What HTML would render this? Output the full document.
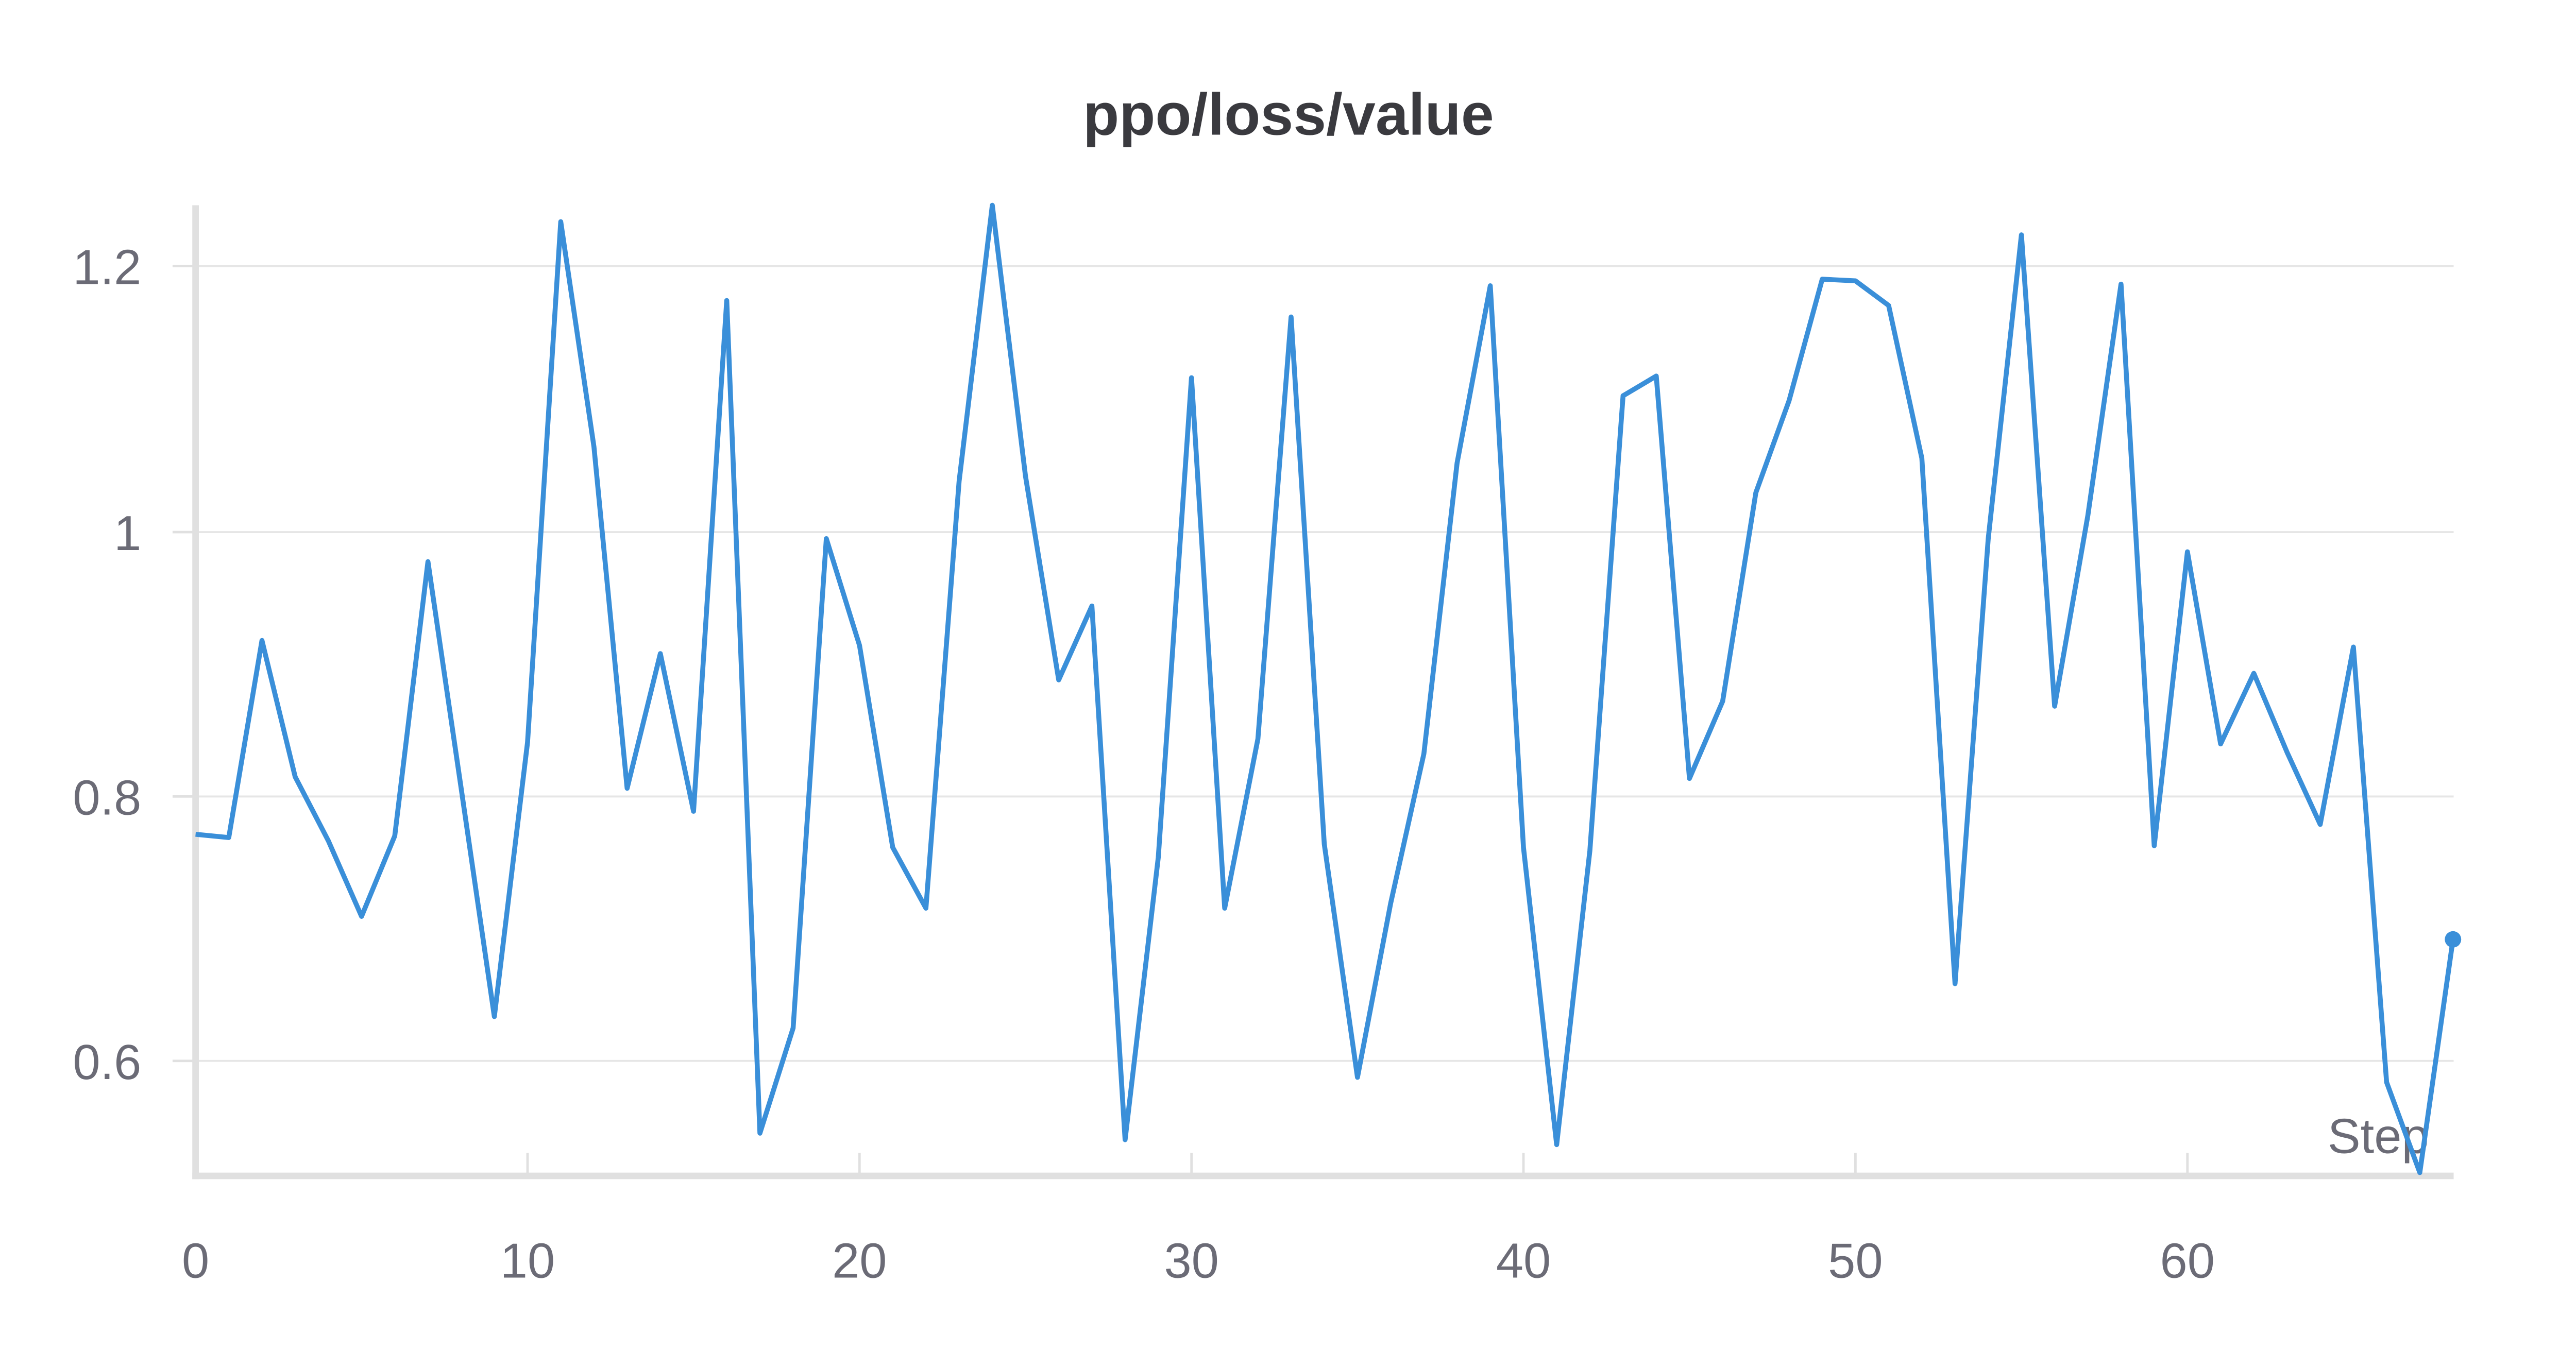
<!DOCTYPE html>
<html><head><meta charset="utf-8"><style>
html,body{margin:0;padding:0;background:#fff;}
svg{display:block;}
</style></head><body>
<svg width="5056" height="2656" viewBox="0 0 1585 833" preserveAspectRatio="none" xmlns="http://www.w3.org/2000/svg" font-family="'Liberation Sans', sans-serif">
<rect width="1585" height="833" fill="#fff"/>
<text x="784" y="82" text-anchor="middle" font-size="36" font-weight="bold" fill="#3a3a3f">ppo/loss/value</text>
<g stroke="#e6e6e6" stroke-width="1.2">
<line x1="119" y1="162" x2="1493" y2="162"/>
<line x1="119" y1="324" x2="1493" y2="324"/>
<line x1="119" y1="485" x2="1493" y2="485"/>
<line x1="119" y1="646" x2="1493" y2="646"/>
</g>
<g stroke="#e0e0e0" stroke-width="1.5">
<line x1="105" y1="162" x2="119" y2="162"/><line x1="105" y1="324" x2="119" y2="324"/>
<line x1="105" y1="485" x2="119" y2="485"/><line x1="105" y1="646" x2="119" y2="646"/>
<line x1="119" y1="702" x2="119" y2="716"/><line x1="321" y1="702" x2="321" y2="716"/>
<line x1="523" y1="702" x2="523" y2="716"/><line x1="725" y1="702" x2="725" y2="716"/>
<line x1="927" y1="702" x2="927" y2="716"/><line x1="1129" y1="702" x2="1129" y2="716"/>
<line x1="1331" y1="702" x2="1331" y2="716"/>
</g>
<line x1="119" y1="125" x2="119" y2="718" stroke="#e0e0e0" stroke-width="4"/>
<line x1="117" y1="716" x2="1493" y2="716" stroke="#e0e0e0" stroke-width="4"/>
<g font-size="30" fill="#6b6b76" text-anchor="end">
<text x="86" y="173">1.2</text><text x="86" y="335">1</text>
<text x="86" y="496">0.8</text><text x="86" y="657">0.6</text>
</g>
<g font-size="30" fill="#6b6b76" text-anchor="middle">
<text x="119" y="778">0</text><text x="321" y="778">10</text><text x="523" y="778">20</text>
<text x="725" y="778">30</text><text x="927" y="778">40</text><text x="1129" y="778">50</text>
<text x="1331" y="778">60</text>
</g>
<text x="1478" y="702" font-size="30" fill="#6b6b76" text-anchor="end">Step</text>
<polyline fill="none" stroke="#3a8fd9" stroke-width="3" stroke-linejoin="round" points="
119,508 139.2,510 159.4,390 179.6,473 199.8,512 220,558 240.2,509 260.4,342 280.6,480 300.8,619
321,452 341.2,135 361.4,272 381.6,480 401.8,398 422,494 442.2,183 462.4,690 482.6,626 502.8,328
523,393 543.2,516 563.4,553 583.6,293 603.8,125 624,290 644.2,414 664.4,369 684.6,694 704.8,522
725,230 745.2,553 765.4,450 785.6,193 805.8,514 826,656 846.2,550 866.4,459 886.6,282 906.8,174
927,516 947.2,697 967.4,518 987.6,241 1007.8,229 1028,474 1048.2,427 1068.4,300 1088.6,244 1108.8,170
1129,171 1149.2,186 1169.4,279 1189.6,599 1209.8,328 1230,143 1250.2,430 1270.4,314 1290.6,173 1310.8,515
1331,336 1351.2,453 1371.4,410 1391.6,458 1411.8,502 1432,394 1452.2,659 1472.4,714 1492.6,572"/>
<circle cx="1492.6" cy="572" r="5" fill="#3a8fd9"/>
</svg>
</body></html>
